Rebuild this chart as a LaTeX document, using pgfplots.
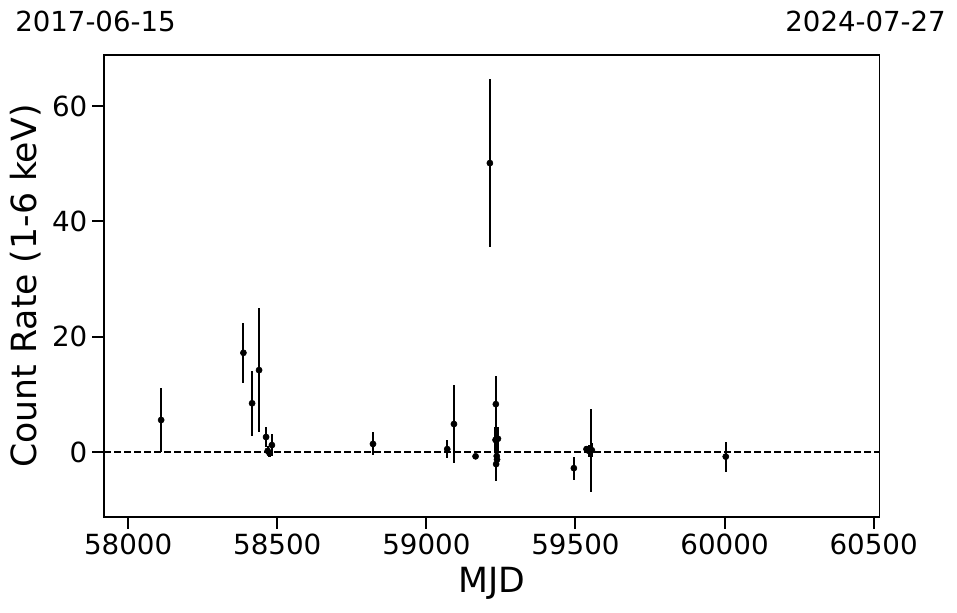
\documentclass[border=0pt]{standalone}
\usepackage{pgfplots}
\pgfplotsset{compat=1.18}
\usepackage{pgfplotstable}
\usepackage{fontspec}
\setmainfont{DejaVu Sans}
\pgfplotstableread{
x y e
58110.6 5.55 5.5
58386.5 17.2 5.2
58415.6 8.45 5.6
58439 14.2 10.8
58462.5 2.6 1.75
58468 0.2 0.8
58474 -0.2 0.6
58482 1.2 1.9
58821 1.4 2.0
59070 0.5 1.5
59092.5 4.85 6.7
59165 -0.75 0.4
59213 50.1 14.5
59232 2.1 2.2
59233 8.3 4.9
59234 -2.1 2.9
59236 -0.7 1.0
59237 -1.3 1.2
59240 2.3 2.1
59494.6 -2.8 2.0
59537 0.5 0.6
59545 0.2 1.0
59551 0.3 7.2
59555 0.3 1.2
60004 -0.8 2.6
}\datatable
\begin{document}
\begin{tikzpicture}
\begin{axis}[
  scale only axis,
  width=581.25pt, height=346.5pt,
  xmin=57919, xmax=60518,
  ymin=-11.27, ymax=68.85,
  xtick={58000,58500,59000,59500,60000,60500},
  ytick={0,20,40,60},
  minor tick num=0,
  scaled x ticks=false,
  xticklabel style={/pgf/number format/.cd, fixed, 1000 sep={}},
  /pgf/number format/assume math mode=true,
  tick align=outside,
  tick pos=left,
  major tick length=9pt,
  every tick/.style={black, line width=1.5pt},
  axis line style={line width=0.8pt},
  ticklabel style={font=\fontsize{20.8}{25}\selectfont},
  label style={font=\fontsize{26}{31}\selectfont},
  xlabel={MJD},
  ylabel={Count Rate (1-6 keV)},
  xlabel style={yshift=-2.5pt},
  ylabel style={yshift=1.5pt},
  clip=false,
]
\addplot[black, dash pattern=on 5pt off 2.5pt, line width=1.1pt, forget plot] coordinates {(57919,0) (60518,0)};
\addplot[only marks, black, mark=*, mark size=2.3pt,
  error bars/.cd, y dir=both, y explicit, error mark=none,
  error bar style={line width=1.6pt, black}]
  table[x=x, y=y, y error=e] {\datatable};
\node[anchor=base west, font=\fontsize{20.7}{24}\selectfont, inner sep=0pt] at (rel axis cs:-0.1148,1.0498) {2017-06-15};
\node[anchor=base east, font=\fontsize{20.7}{24}\selectfont, inner sep=0pt] at (rel axis cs:1.0865,1.0498) {2024-07-27};
\path[use as bounding box] (rel axis cs:-0.1342,-0.2078) rectangle (rel axis cs:1.1006,1.119);
\end{axis}
\end{tikzpicture}
\end{document}
